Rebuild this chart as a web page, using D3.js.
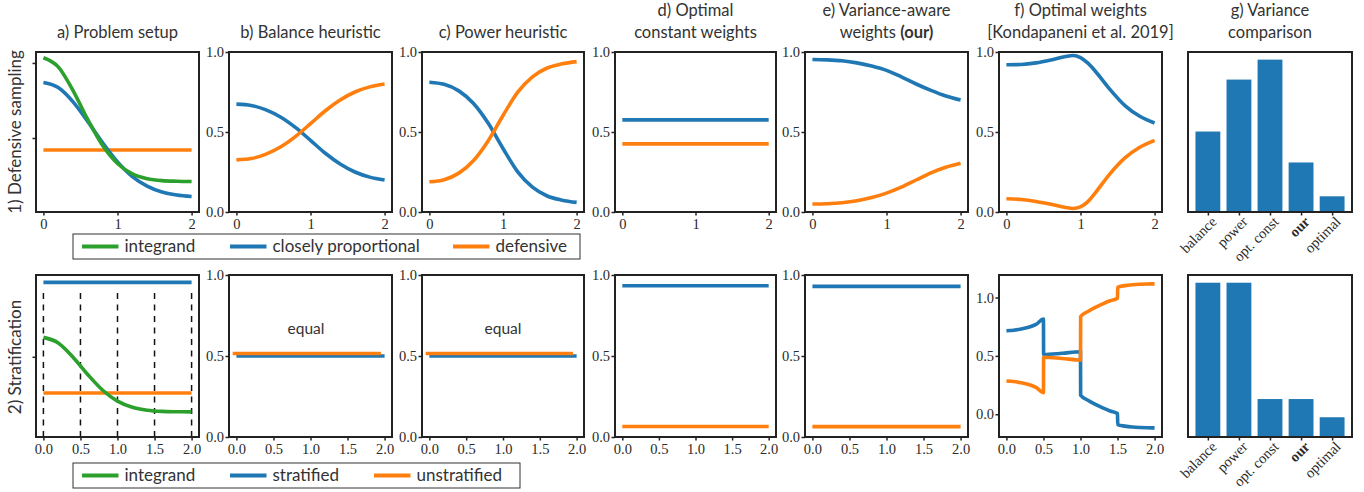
<!DOCTYPE html>
<html><head><meta charset="utf-8">
<script src="https://cdn.jsdelivr.net/npm/d3@7"></script>
<style>
body{margin:0;background:#fff;}
svg{display:block;}
.tick text{font-family:"Liberation Serif",serif;font-size:14.5px;fill:#2a2a2a;}
.title{font-family:Lato,"Open Sans",sans-serif;font-size:16.5px;fill:#333;}
.lg{font-family:Lato,"Open Sans",sans-serif;font-size:17px;fill:#333;}
</style>
</head><body>
<svg id="c" width="1364" height="492"></svg>
<script>
// ---------------- data ----------------
const xs = [0, 0.2, 0.4, 0.6, 0.8, 1.0, 1.2, 1.4, 1.6, 1.8, 2.0];
const integrand = [1.035, 0.974, 0.816, 0.622, 0.450, 0.330, 0.261, 0.229, 0.216, 0.212, 0.210];
const closelyProportional = [0.870, 0.836, 0.741, 0.609, 0.468, 0.341, 0.243, 0.180, 0.140, 0.120, 0.110];
const defensive = 0.42;
const balanceBlue = [0.674, 0.666, 0.638, 0.592, 0.527, 0.448, 0.367, 0.300, 0.250, 0.218, 0.200];
const balanceOrange = [0.326, 0.334, 0.362, 0.408, 0.473, 0.552, 0.633, 0.700, 0.750, 0.782, 0.800];
const powerBlue = [0.811, 0.798, 0.757, 0.678, 0.554, 0.397, 0.251, 0.155, 0.100, 0.074, 0.060];
const powerOrange = [0.189, 0.202, 0.243, 0.322, 0.446, 0.603, 0.749, 0.845, 0.900, 0.926, 0.940];
const optConstBlue = 0.576, optConstOrange = 0.426;
const oursBlue = [0.953, 0.951, 0.945, 0.932, 0.912, 0.885, 0.845, 0.800, 0.760, 0.725, 0.700];
const oursOrange = [0.050, 0.052, 0.058, 0.070, 0.090, 0.118, 0.155, 0.200, 0.245, 0.280, 0.305];
const kondaX = [0, 0.2, 0.4, 0.6, 0.8, 0.9, 1.0, 1.1, 1.2, 1.4, 1.6, 1.8, 2.0];
const kondaBlue = [0.920, 0.922, 0.932, 0.950, 0.972, 0.978, 0.965, 0.930, 0.880, 0.765, 0.665, 0.598, 0.556];
const kondaOrange = [0.083, 0.078, 0.066, 0.048, 0.028, 0.022, 0.032, 0.065, 0.120, 0.240, 0.338, 0.405, 0.448];
const barLabels = ["balance", "power", "opt. const", "our", "optimal"];
const variance1 = [0.528, 0.869, 1.0, 0.325, 0.103];

const stratEdges = [0, 0.5, 1.0, 1.5, 2.0];
const stratified = 1.644, unstratified = 0.42;
const equalBlueX = [0, 2], equalBlue = 0.500;
const equalOrangeX = [-0.05, 1.95], equalOrange = 0.515;
const optConst2Blue = 0.934, optConst2Orange = 0.065;
const ours2Blue = 0.930, ours2Orange = 0.064;
const konda2X = [0, 0.1, 0.2, 0.3, 0.4, 0.5, 0.502, 0.75, 1.0, 1.002, 1.1, 1.2, 1.3, 1.4, 1.5, 1.502, 1.6, 1.7, 1.8, 1.9, 2.0];
const konda2Blue = [0.715, 0.720, 0.730, 0.745, 0.770, 0.815, 0.512, 0.522, 0.535, 0.163, 0.120, 0.085, 0.055, 0.028, 0.006, -0.088, -0.102, -0.110, -0.114, -0.116, -0.117];
const konda2Orange = [0.285, 0.280, 0.270, 0.255, 0.230, 0.185, 0.488, 0.478, 0.465, 0.837, 0.880, 0.915, 0.945, 0.972, 0.994, 1.088, 1.102, 1.110, 1.114, 1.116, 1.117];
const variance2 = [1.0, 1.0, 0.246, 0.246, 0.128];

const titles = [["a) Problem setup"], ["b) Balance heuristic"], ["c) Power heuristic"],
  ["d) Optimal", "constant weights"], ["e) Variance-aware", "weights |(our)"],
  ["f) Optimal weights", "[Kondapaneni et al. 2019]"], ["g) Variance", "comparison"]];
const rowLabels = ["1) Defensive sampling", "2) Stratification"];
const legend1 = ["integrand", "closely proportional", "defensive"];
const legend2 = ["integrand", "stratified", "unstratified"];

// ---------------- layout ----------------
const BLUE = "#1f77b4", ORANGE = "#ff7f0e", GREEN = "#2ca02c";
const colL = [36, 229, 422, 615, 805, 999, 1188];
const colW = [163, 163, 162, 161, 163, 163, 164];
const rows = [{t: 52, b: 212}, {t: 275, b: 437}];
const svg = d3.select("#c");
svg.append("rect").attr("width", 1364).attr("height", 492).attr("fill", "#fff");

function panel(c, r, ydom, yticks, xticks, showYLabels, xfmt) {
  const L = colL[c], R = L + colW[c], T = rows[r].t, B = rows[r].b;
  const x = d3.scaleLinear().domain([-0.1, 2.1]).range([L, R]);
  const y = d3.scaleLinear().domain(ydom).range([B, T]);
  const g = svg.append("g");
  const lines = g.append("g");
  const xa = g.append("g").attr("transform", `translate(0,${B})`)
    .call(d3.axisBottom(x).tickValues(xticks).tickSize(3.5).tickPadding(3).tickFormat(xfmt));
  const ya = g.append("g").attr("transform", `translate(${L},0)`)
    .call(d3.axisLeft(y).tickValues(yticks).tickSize(3.5).tickPadding(1.5)
      .tickFormat(showYLabels ? d3.format(".1f") : () => ""));
  [xa, ya].forEach(a => {
    a.select(".domain").remove();
    a.selectAll(".tick line").attr("stroke", "#222").attr("stroke-width", 1.5);
  });
  g.append("rect").attr("x", L).attr("y", T).attr("width", R - L).attr("height", B - T)
    .attr("fill", "none").attr("stroke", "#222").attr("stroke-width", 2);
  return {x, y, g: lines, L, R, T, B};
}

function curve(p, X, Y, color, interp) {
  const line = d3.line().x((d, i) => p.x(X[i])).y(d => p.y(d)).curve(interp || d3.curveMonotoneX);
  p.g.append("path").attr("d", line(Y)).attr("fill", "none").attr("stroke", color)
    .attr("stroke-width", 3.6);
}
function hline(p, X, v, color) { curve(p, X, X.map(() => v), color, d3.curveLinear); }

const fmtInt = d3.format("d"), fmt1 = d3.format(".1f");
const ticksInt = [0, 1, 2], ticksHalf = [0, 0.5, 1.0, 1.5, 2.0], yt = [0, 0.5, 1.0];

// Row 1
let p = panel(0, 0, [0.007, 1.073], [0.5, 1.0], ticksInt, false, fmtInt);
hline(p, [0, 2], defensive, ORANGE);
curve(p, xs, closelyProportional, BLUE);
curve(p, xs, integrand, GREEN);
p = panel(1, 0, [0, 1], yt, ticksInt, true, fmtInt);
curve(p, xs, balanceBlue, BLUE); curve(p, xs, balanceOrange, ORANGE);
p = panel(2, 0, [0, 1], yt, ticksInt, true, fmtInt);
curve(p, xs, powerBlue, BLUE); curve(p, xs, powerOrange, ORANGE);
p = panel(3, 0, [0, 1], yt, ticksInt, true, fmtInt);
hline(p, [0, 2], optConstBlue, BLUE); hline(p, [0, 2], optConstOrange, ORANGE);
p = panel(4, 0, [0, 1], yt, ticksInt, true, fmtInt);
curve(p, xs, oursBlue, BLUE); curve(p, xs, oursOrange, ORANGE);
p = panel(5, 0, [0, 1], yt, ticksInt, true, fmtInt);
curve(p, kondaX, kondaBlue, BLUE); curve(p, kondaX, kondaOrange, ORANGE);

// Row 2
p = panel(0, 1, [-0.0676, 1.7254], [0.82], ticksHalf, false, fmt1);
stratEdges.forEach(e => {
  p.g.append("line").attr("x1", p.x(e)).attr("x2", p.x(e))
    .attr("y1", p.B).attr("y2", p.B - 0.9 * (p.B - p.T))
    .attr("stroke", "#111").attr("stroke-width", 1.5).attr("stroke-dasharray", "6,5.5");
});
hline(p, [0, 2], stratified, BLUE);
hline(p, [0, 2], unstratified, ORANGE);
curve(p, xs, integrand, GREEN);
[[1, 0.94], [2, 1.0]].forEach(([c, tx]) => {
  const q = panel(c, 1, [0, 1], yt, ticksHalf, true, fmt1);
  hline(q, equalBlueX, equalBlue, BLUE);
  hline(q, equalOrangeX, equalOrange, ORANGE);
  q.g.append("text").attr("class", "title").attr("x", q.x(tx)).attr("y", q.y(0.665) + 5)
    .attr("text-anchor", "middle").style("font-size", "15.5px").text("equal");
});
p = panel(3, 1, [0, 1], yt, ticksHalf, true, fmt1);
hline(p, [0, 2], optConst2Blue, BLUE); hline(p, [0, 2], optConst2Orange, ORANGE);
p = panel(4, 1, [0, 1], yt, ticksHalf, true, fmt1);
hline(p, [0, 2], ours2Blue, BLUE); hline(p, [0, 2], ours2Orange, ORANGE);
p = panel(5, 1, [-0.195, 1.193], yt, ticksHalf, true, fmt1);
curve(p, konda2X, konda2Blue, BLUE); curve(p, konda2X, konda2Orange, ORANGE);

// Bar panels
function bars(r, vals) {
  const L = colL[6], R = L + colW[6], T = rows[r].t, B = rows[r].b;
  const x = d3.scaleLinear().domain([-0.64, 4.64]).range([L, R]);
  const y = d3.scaleLinear().domain([0, 1.05 * d3.max(vals)]).range([B, T]);
  const g = svg.append("g");
  g.selectAll("rect.bar").data(vals).join("rect").attr("class", "bar")
    .attr("x", (d, i) => x(i - 0.4)).attr("width", x(0.8) - x(0))
    .attr("y", d => y(d)).attr("height", d => B - y(d)).attr("fill", BLUE);
  const xa = g.append("g").attr("transform", `translate(0,${B})`)
    .call(d3.axisBottom(x).tickValues(d3.range(vals.length)).tickSize(3.5).tickFormat(""));
  xa.select(".domain").remove();
  xa.selectAll(".tick line").attr("stroke", "#222").attr("stroke-width", 1.5);
  barLabels.forEach((lab, i) => {
    g.append("text").attr("transform", `translate(${x(i) + 6},${B + 7}) rotate(-45)`)
      .attr("text-anchor", "end").attr("dy", "0.35em")
      .style("font-family", "'Liberation Serif',serif").style("font-size", "14.5px")
      .style("font-weight", lab === "our" ? "bold" : "normal").attr("fill", "#2a2a2a").text(lab);
  });
  g.append("rect").attr("x", L).attr("y", T).attr("width", R - L).attr("height", B - T)
    .attr("fill", "none").attr("stroke", "#222").attr("stroke-width", 2);
}
bars(0, variance1);
bars(1, variance2);

// Titles
titles.forEach((t, c) => {
  const cx = colL[c] + colW[c] / 2;
  const base = t.length === 1 ? [37.5] : [16, 38];
  t.forEach((s, k) => {
    const tx = svg.append("text").attr("class", "title").attr("x", cx).attr("y", base[k])
      .attr("text-anchor", "middle");
    const parts = s.split("|");
    tx.append("tspan").text(parts[0]);
    if (parts[1]) tx.append("tspan").style("font-weight", "bold").text(parts[1]);
  });
});

// Row labels
[[132, 0], [357, 1]].forEach(([cy, k]) => {
  svg.append("text").attr("class", "title").attr("transform", `translate(21,${cy}) rotate(-90)`)
    .attr("text-anchor", "middle").style("font-size", "17px").text(rowLabels[k]);
});

// Legends
function legend(y0, x0, x1, labels, colors, starts) {
  svg.append("rect").attr("x", x0).attr("y", y0).attr("width", x1 - x0).attr("height", 25)
    .attr("fill", "#fff").attr("stroke", "#333").attr("stroke-width", 1);
  labels.forEach((lab, i) => {
    const sx = starts[i], cy = y0 + 12.5;
    svg.append("line").attr("x1", sx).attr("x2", sx + 36.5).attr("y1", cy).attr("y2", cy)
      .attr("stroke", colors[i]).attr("stroke-width", 4);
    svg.append("text").attr("class", "lg").attr("x", sx + 42.5).attr("y", cy + 5.5).text(lab);
  });
}
legend(234, 73, 580, legend1, [GREEN, BLUE, ORANGE], [82, 230, 453]);
legend(463, 73, 520, legend2, [GREEN, BLUE, ORANGE], [82, 230, 374]);
</script>
</body></html>
